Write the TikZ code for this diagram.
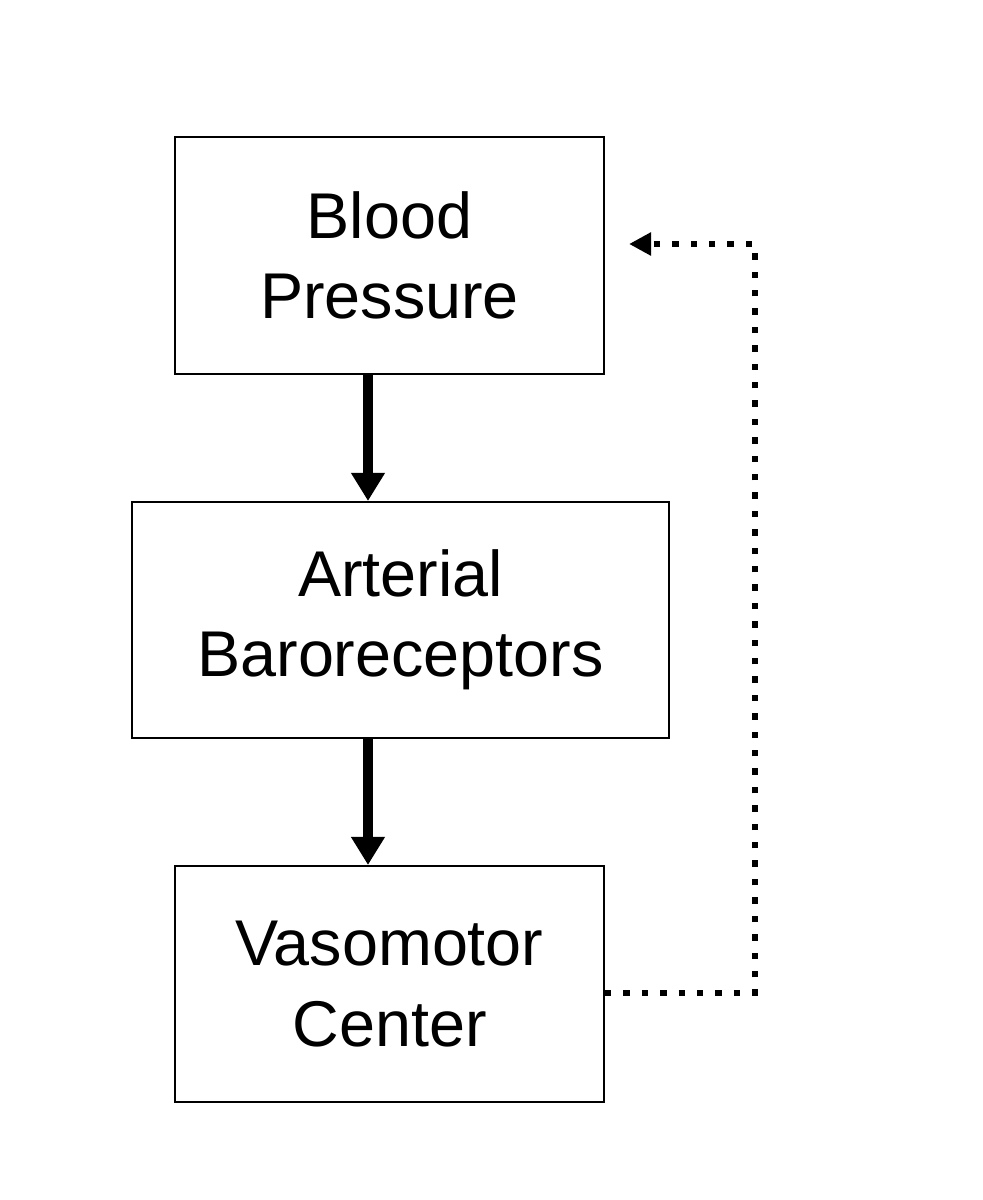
\documentclass[tikz,border=0pt]{standalone}
\usepackage{amsmath}
\usepackage{fontspec}
\setmainfont{Liberation Sans}
\usepackage{tikz}
\usetikzlibrary{arrows.meta}

\begin{document}
\begin{tikzpicture}[x=0.025cm, y=-0.025cm,
  block/.style={draw, line width=1.4pt, align=center, inner sep=0pt,
    font=\fontsize{46pt}{57pt}\selectfont, minimum height=5.9cm},
  flow/.style={line width=7pt, -{Triangle[width=0.8cm, length=0.7cm]}},
  feedback/.style={line width=4.2pt, dash pattern=on 0.16cm off 0.3cm,
    -{Triangle[width=0.55cm, length=0.55cm]}}]
\useasboundingbox (0, 0) rectangle (983, 1200);
\node[block, minimum width=10.725cm] (bp) at (389.5, 255.5) {Blood\\Pressure};
\node[block, minimum width=13.425cm] (ab) at (400.5, 620) {Arterial\\Baroreceptors};
\node[block, minimum width=10.725cm] (vc) at (389.5, 984) {Vasomotor\\Center};
\coordinate (loop) at (755, 244);
\draw[flow] ([xshift=-0.5375cm]bp.south) -- ([xshift=-0.5375cm]bp.south |- ab.north);
\draw[flow] ([xshift=-0.8125cm]ab.south) -- ([xshift=-0.8125cm]ab.south |- vc.north);
\draw[feedback] ([yshift=-0.225cm]vc.east) -| (loop) -- ([xshift=0.6cm]bp.east |- loop);
\end{tikzpicture}
\end{document}
